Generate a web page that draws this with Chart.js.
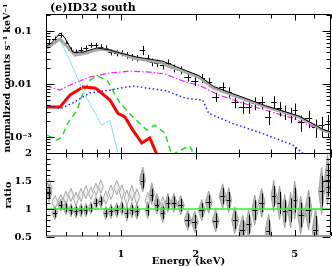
<!DOCTYPE html>
<html>
<head>
<meta charset="utf-8">
<script src="https://cdn.jsdelivr.net/npm/chart.js@4"></script>
<style>
  html, body { margin: 0; padding: 0; background: #fff; }
  canvas { display: block; }
</style>
</head>
<body>
<canvas id="c" width="332" height="266"></canvas>
<script>
/* ---------------- data ---------------- */
const energy = [0.514, 0.543, 0.574, 0.601, 0.630, 0.660, 0.691, 0.723, 0.758, 0.794,
  0.831, 0.870, 0.912, 0.964, 1.009, 1.057, 1.107, 1.159, 1.225, 1.283, 1.331, 1.395,
  1.475, 1.545, 1.633, 1.742, 1.858, 1.982, 2.115, 2.256, 2.407, 2.568, 2.714, 2.870,
  3.090, 3.266, 3.452, 3.684, 3.929, 4.115, 4.35, 4.56, 4.82, 5.00, 5.284, 5.69, 6.07,
  6.415, 6.78];

const counts = [0.059, 0.0706, 0.084, 0.059, 0.044, 0.040, 0.044, 0.048, 0.054, 0.054,
  0.050, 0.048, 0.040, 0.0385, 0.0385, 0.035, 0.0323, 0.031, 0.0438, 0.0309, 0.026, 0.0249,
  0.0228, 0.0249, 0.020, 0.0184, 0.0136, 0.0114, 0.013, 0.0109, 0.0057, 0.0088, 0.0071,
  0.0046, 0.0037, 0.0037, 0.0044, 0.0046, 0.0024, 0.0046, 0.0035, 0.0030, 0.0027, 0.0032,
  0.0019, 0.0023, 0.00155, 0.0017, 0.0018];

const errFrac = [0.16, 0.12, 0.11, 0.12, 0.12, 0.12, 0.12, 0.12, 0.11, 0.11, 0.12, 0.12,
  0.13, 0.13, 0.13, 0.14, 0.14, 0.14, 0.20, 0.15, 0.17, 0.16, 0.17, 0.17, 0.17, 0.17, 0.18,
  0.19, 0.19, 0.20, 0.20, 0.22, 0.22, 0.24, 0.26, 0.26, 0.27, 0.26, 0.30, 0.28, 0.30, 0.30,
  0.32, 0.34, 0.34, 0.36, 0.38, 0.42, 0.45];

const ratio = [1.29, 0.93, 1.07, 1.02, 0.98, 0.96, 0.98, 0.98, 1.02, 1.11, 1.14, 0.93,
  0.96, 0.98, 1.02, 0.93, 0.98, 0.96, 1.50, 0.98, 1.25, 1.07, 0.93, 1.11, 1.11, 1.07, 0.80,
  0.77, 0.98, 1.12, 0.79, 1.23, 1.16, 0.80, 0.63, 0.73, 0.98, 1.11, 0.61, 1.23, 1.11, 0.96,
  0.98, 1.16, 0.89, 0.98, 0.63, 1.32, 1.52];

// data / grey model, only shown below ~1.5 keV
const ratioGrey = [1.38, 1.12, 1.15, 1.20, 1.25, 1.18, 1.25, 1.30, 1.28, 1.35, 1.40, 1.20,
  1.30, 1.38, 1.30, 1.20, 1.28, 1.22, 1.55, 1.15, 1.30, 1.12, 1.05];

const ratioRef = 1;

// model curves: [energy keV, normalized counts]
const totalModel = [[0.5, 0.052], [0.528, 0.060], [0.569, 0.092], [0.596, 0.074],
  [0.641, 0.040], [0.704, 0.040], [0.801, 0.048], [0.903, 0.044], [0.991, 0.0385],
  [1.159, 0.0323], [1.475, 0.027], [1.824, 0.018], [2.057, 0.0145], [2.362, 0.009],
  [2.818, 0.0066], [3.821, 0.0039], [5.19, 0.0025], [6.48, 0.0014], [7.0, 0.00125]];

const greyModel = [[0.5, 0.047], [0.53, 0.056], [0.569, 0.0706], [0.61, 0.050],
  [0.654, 0.0352], [0.72, 0.038], [0.824, 0.0457], [0.903, 0.043], [0.991, 0.0385],
  [1.117, 0.0309], [1.475, 0.0249], [1.516, 0.0228], [1.824, 0.0168], [2.057, 0.0136],
  [2.362, 0.0084], [2.818, 0.0062], [3.821, 0.0037], [5.19, 0.0024], [6.48, 0.00135],
  [7.0, 0.00119]];

const cyanComp = [[0.5, 0.048], [0.569, 0.068], [0.624, 0.0276], [0.717, 0.0062],
  [0.839, 0.00168], [0.903, 0.0021], [0.985, 0.0004]];

const magentaComp = [[0.5, 0.0092], [0.519, 0.0088], [0.569, 0.0077], [0.624, 0.0096],
  [0.751, 0.0136], [0.903, 0.0161], [1.087, 0.0176], [1.307, 0.0168], [1.502, 0.0155],
  [1.824, 0.0109], [2.057, 0.0096], [2.475, 0.0062], [3.09, 0.0044], [3.821, 0.0032],
  [4.91, 0.00228], [5.69, 0.00168], [6.48, 0.00135], [7.0, 0.00114]];

const blueComp = [[0.5, 0.004], [0.569, 0.0034], [0.641, 0.0044], [0.751, 0.0068],
  [0.903, 0.0077], [1.117, 0.0092], [1.516, 0.0075], [1.824, 0.0054], [2.134, 0.005],
  [2.256, 0.0028], [2.818, 0.0018], [3.584, 0.00124], [4.35, 0.00088], [4.91, 0.00071],
  [5.33, 0.00052], [5.53, 0.00044]];

const redComp = [[0.5, 0.0037], [0.569, 0.0037], [0.624, 0.0062], [0.704, 0.0088],
  [0.786, 0.0084], [0.809, 0.0077], [0.903, 0.005], [0.973, 0.0028], [1.038, 0.0024],
  [1.117, 0.00135], [1.214, 0.00077], [1.307, 0.00096], [1.40, 0.00045]];

const greenComp = [[0.504, 0.00109], [0.553, 0.00088], [0.579, 0.001], [0.612, 0.00184],
  [0.666, 0.0032], [0.704, 0.0068], [0.751, 0.0119], [0.801, 0.0142], [0.879, 0.0119],
  [0.991, 0.0044], [1.117, 0.0024], [1.272, 0.00135], [1.37, 0.00168], [1.502, 0.00119],
  [1.603, 0.00046], [1.807, 0.00062], [1.892, 0.00068], [2.0, 0.0004]];

// axes
const xTickLabels = [1, 2, 5];
const xMinorTicks = [0.5, 0.6, 0.7, 0.8, 0.9, 1, 2, 3, 4, 5, 6, 7];
const yTickLabels = [0.001, 0.01, 0.1];
const yTickText = { 0.001: "10\u207B\u00B3", 0.01: "0.01", 0.1: "0.1" };
const ratioTickLabels = [0.5, 1, 1.5, 2];

const titleText = "(e)ID32 south";
const yTitle = "normalized counts s\u207B\u00B9 keV\u207B\u00B9";
const ratioTitle = "ratio";
const xTitle = "Energy (keV)";

/* ---------------- helpers ---------------- */
const pts = (arr) => arr.map(([x, y]) => ({ x, y }));
const FONT = "DejaVu Serif";

function binEdges(px, i) {
  const l = i > 0 ? (px[i - 1] + px[i]) / 2 : px[i] - (px[1] - px[0]) / 2;
  const r = i < px.length - 1 ? (px[i] + px[i + 1]) / 2 : px[i] + (px[i] - px[i - 1]) / 2;
  return [l, r];
}

function drawMarks(chart, ds) {
  const ctx = chart.ctx;
  const xs = chart.scales.x;
  const ys = chart.scales[ds.yAxisID];
  const px = ds.data.map(p => xs.getPixelForValue(p.x));

  ds.data.forEach((p, i) => {
    const f = ds.errs[i];
    const [l, r] = binEdges(px, i);
    const cx = Math.round(px[i]) + 0.5;
    const cy = ys.getPixelForValue(p.y);

    if (ds.marks === "cross") {
      const top = ys.getPixelForValue(p.y * (1 + f));
      const bot = ys.getPixelForValue(p.y * (1 - f));
      ctx.strokeStyle = "#000";
      ctx.lineWidth = 1;
      ctx.beginPath();
      ctx.moveTo(cx, top); ctx.lineTo(cx, bot);
      ctx.moveTo(l, Math.round(cy) + 0.5); ctx.lineTo(r, Math.round(cy) + 0.5);
      ctx.stroke();
    } else {
      const dTop = ys.getPixelForValue(p.y + f);
      const dBot = ys.getPixelForValue(p.y - f);
      ctx.beginPath();
      ctx.moveTo(l, cy); ctx.lineTo(px[i], dTop); ctx.lineTo(r, cy); ctx.lineTo(px[i], dBot);
      ctx.closePath();
      if (ds.marks === "ratio") {
        ctx.fillStyle = "rgba(105,105,105,0.5)";
        ctx.fill();
        ctx.strokeStyle = "rgba(160,160,160,0.9)";
        ctx.lineWidth = 1;
        ctx.stroke();
        const t = ys.getPixelForValue(p.y + 0.65 * f);
        const b = ys.getPixelForValue(p.y - 0.65 * f);
        ctx.strokeStyle = "#000";
        ctx.beginPath();
        ctx.moveTo(cx, t); ctx.lineTo(cx, b);
        ctx.moveTo(l + 1, Math.round(cy) + 0.5); ctx.lineTo(r - 1, Math.round(cy) + 0.5);
        ctx.stroke();
      } else {
        ctx.fillStyle = "rgba(210,210,210,0.35)";
        ctx.fill();
        ctx.strokeStyle = "#a8a8a8";
        ctx.lineWidth = 1;
        ctx.stroke();
      }
    }
  });
}

function drawFrame(chart) {
  const ctx = chart.ctx;
  const a = chart.chartArea;
  const xs = chart.scales.x;
  const ys = chart.scales.y;
  const yr = chart.scales.yr;
  const L = a.left + 0.5, R = a.right - 0.5;
  const T = Math.round(ys.top) + 0.5, M = Math.round(ys.bottom) + 0.5;
  const B = Math.round(yr.bottom);

  ctx.save();
  ctx.strokeStyle = "#000";
  ctx.lineWidth = 1;
  ctx.beginPath();
  ctx.moveTo(L, B); ctx.lineTo(L, T); ctx.lineTo(R, T); ctx.lineTo(R, B);
  ctx.moveTo(L, M); ctx.lineTo(R, M);
  ctx.stroke();

  // bottom axis line
  ctx.strokeStyle = "#999";
  ctx.lineWidth = 2;
  ctx.beginPath();
  ctx.moveTo(a.left, B - 1); ctx.lineTo(a.right, B - 1);
  ctx.stroke();

  ctx.strokeStyle = "#000";
  ctx.lineWidth = 1;
  ctx.beginPath();
  // x ticks: top, divider (both sides), bottom
  xMinorTicks.forEach(v => {
    const x = Math.round(xs.getPixelForValue(v)) + 0.5;
    const len = xTickLabels.includes(v) ? 6 : 4;
    ctx.moveTo(x, T); ctx.lineTo(x, T + len);
    ctx.moveTo(x, M - len); ctx.lineTo(x, M + len);
    ctx.moveTo(x, B - 1); ctx.lineTo(x, B - 1 - len);
  });
  // log y ticks
  for (let d = -4; d <= -1; d++) {
    for (let k = 1; k <= 9; k++) {
      const v = k * Math.pow(10, d);
      if (v < ys.min || v > ys.max) continue;
      const y = Math.round(ys.getPixelForValue(v)) + 0.5;
      const len = k === 1 ? 8 : 4;
      ctx.moveTo(L, y); ctx.lineTo(L + len, y);
      ctx.moveTo(R, y); ctx.lineTo(R - len, y);
    }
  }
  // ratio ticks
  for (let i = 5; i <= 20; i++) {
    const v = i / 10;
    const y = Math.round(yr.getPixelForValue(v)) + 0.5;
    const len = i % 5 === 0 ? 8 : 4;
    ctx.moveTo(L, y); ctx.lineTo(L + len, y);
    ctx.moveTo(R, y); ctx.lineTo(R - len, y);
  }
  ctx.stroke();

  // texts
  ctx.fillStyle = "#000";
  ctx.font = `bold 11px "${FONT}"`;
  ctx.textAlign = "left";
  ctx.textBaseline = "alphabetic";
  ctx.fillText(titleText, a.left + 4, 11);

  ctx.font = `bold 10px "${FONT}"`;
  ctx.textAlign = "center";
  ctx.fillText(xTitle, (a.left + a.right) / 2, 264);

  ctx.textBaseline = "middle";
  ctx.font = `bold 9.5px "${FONT}"`;
  ctx.save();
  ctx.translate(8, 78);
  ctx.rotate(-Math.PI / 2);
  ctx.fillText(yTitle, 0, 0);
  ctx.restore();

  ctx.font = `bold 10px "${FONT}"`;
  ctx.save();
  ctx.translate(8, (yr.top + yr.bottom) / 2);
  ctx.rotate(-Math.PI / 2);
  ctx.fillText(ratioTitle, 0, 0);
  ctx.restore();

  ctx.restore();
}

const panelPlugin = {
  id: "panels",
  beforeDatasetDraw(chart, args) {
    const ds = chart.data.datasets[args.index];
    const ys = chart.scales[ds.yAxisID];
    const a = chart.chartArea;
    const ctx = chart.ctx;
    ctx.save();
    ctx.beginPath();
    ctx.rect(a.left, ys.top, a.right - a.left, ys.bottom - ys.top);
    ctx.clip();
  },
  afterDatasetDraw(chart, args) {
    const ds = chart.data.datasets[args.index];
    if (ds.marks) drawMarks(chart, ds);
    chart.ctx.restore();
  },
  afterDraw(chart) {
    drawFrame(chart);
  }
};

/* ---------------- chart ---------------- */
Chart.defaults.font.family = FONT;
Chart.defaults.font.size = 10;
Chart.defaults.font.weight = "bold";
Chart.defaults.color = "#000";

const line = (data, color, width, dash, yAxisID = "y") => ({
  type: "line",
  data: pts(data),
  borderColor: color,
  borderWidth: width,
  borderDash: dash,
  pointRadius: 0,
  tension: 0,
  fill: false,
  yAxisID
});

const ctx = document.getElementById("c").getContext("2d");

new Chart(ctx, {
  type: "line",
  data: {
    datasets: [
      line(totalModel, "#000", 1, []),
      line(greyModel, "#a9a9a9", 3, []),
      {
        type: "scatter",
        data: energy.map((e, i) => ({ x: e, y: counts[i] })),
        errs: errFrac,
        marks: "cross",
        pointRadius: 0,
        showLine: false,
        yAxisID: "y"
      },
      line(cyanComp, "#7fe3ee", 1, []),
      line(magentaComp, "#ee22ee", 1.2, [6, 2, 1.5, 2]),
      line(blueComp, "#2222ff", 1.5, [1.5, 2.5]),
      line(redComp, "#ff0000", 3, []),
      line(greenComp, "#22dd22", 1.5, [6, 4]),
      line([[0.5, ratioRef], [7, ratioRef]], "#33ee33", 1.5, [], "yr"),
      {
        type: "scatter",
        data: energy.map((e, i) => ({ x: e, y: ratio[i] })),
        errs: errFrac,
        marks: "ratio",
        pointRadius: 0,
        showLine: false,
        yAxisID: "yr"
      },
      {
        type: "scatter",
        data: ratioGrey.map((r, i) => ({ x: energy[i], y: r })),
        errs: errFrac,
        marks: "open",
        pointRadius: 0,
        showLine: false,
        yAxisID: "yr"
      }
    ]
  },
  options: {
    responsive: false,
    animation: false,
    devicePixelRatio: 1,
    layout: { padding: { top: 14, right: 1, left: 0, bottom: 0 } },
    plugins: { legend: { display: false }, tooltip: { enabled: false } },
    scales: {
      x: {
        type: "logarithmic",
        min: 0.5,
        max: 7,
        position: "bottom",
        grid: { display: false },
        border: { display: false },
        afterBuildTicks: (s) => { s.ticks = xTickLabels.map(v => ({ value: v })); },
        afterFit: (s) => { s.height = 29; },
        ticks: { autoSkip: false, maxRotation: 0, padding: 3, callback: (v) => String(v) }
      },
      y: {
        type: "logarithmic",
        min: 0.0005,
        max: 0.21,
        position: "left",
        stack: "v",
        stackWeight: 139,
        weight: 1,
        grid: { display: false },
        border: { display: false },
        afterBuildTicks: (s) => { s.ticks = yTickLabels.map(v => ({ value: v })); },
        afterFit: (s) => { s.width = 46; },
        ticks: { padding: 6, callback: (v) => yTickText[v] }
      },
      yr: {
        type: "linear",
        min: 0.5,
        max: 2,
        position: "left",
        stack: "v",
        stackWeight: 84,
        weight: 0,
        grid: { display: false },
        border: { display: false },
        afterBuildTicks: (s) => { s.ticks = ratioTickLabels.map(v => ({ value: v })); },
        afterFit: (s) => { s.width = 46; },
        ticks: { padding: 6, callback: (v) => String(v) }
      }
    }
  },
  plugins: [panelPlugin]
});
</script>
</body>
</html>
